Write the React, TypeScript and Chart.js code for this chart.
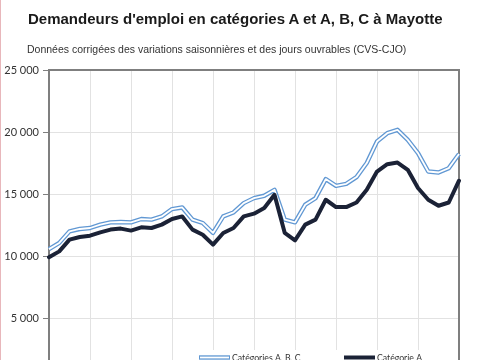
import React, { useEffect, useRef } from "react";
import { Chart, registerables } from "chart.js";

Chart.register(...registerables);

const quarters = [
  "T1 2010", "T2 2010", "T3 2010", "T4 2010",
  "T1 2011", "T2 2011", "T3 2011", "T4 2011",
  "T1 2012", "T2 2012", "T3 2012", "T4 2012",
  "T1 2013", "T2 2013", "T3 2013", "T4 2013",
  "T1 2014", "T2 2014", "T3 2014", "T4 2014",
  "T1 2015", "T2 2015", "T3 2015", "T4 2015",
  "T1 2016", "T2 2016", "T3 2016", "T4 2016",
  "T1 2017", "T2 2017", "T3 2017", "T4 2017",
  "T1 2018", "T2 2018", "T3 2018", "T4 2018",
  "T1 2019", "T2 2019", "T3 2019", "T4 2019",
  "T1 2020",
];

const categoriesABC = [
  10600, 11100, 12030, 12220, 12300, 12570, 12750, 12780, 12750, 13020,
  12970, 13230, 13820, 13950, 12970, 12700, 11900, 13230, 13550, 14300,
  14700, 14890, 15370, 12970, 12750, 14170, 14700, 16230, 15690, 15850,
  16390, 17520, 19250, 19920, 20190, 19380, 18320, 16840, 16760, 17110,
  18250,
];

const categorieA = [
  9950, 10420, 11360, 11580, 11680, 11950, 12170, 12250, 12090, 12350,
  12300, 12570, 13020, 13230, 12170, 11760, 10960, 11900, 12300, 13230,
  13450, 13900, 14970, 11900, 11310, 12570, 12970, 14570, 13980, 13980,
  14350, 15370, 16840, 17430, 17560, 16980, 15510, 14570, 14090, 14350,
  16100,
];

const yTicks = [0, 5000, 10000, 15000, 20000, 25000];
const legendLabels = ["Catégories A, B, C", "Catégorie A"];

const TITLE = "Demandeurs d'emploi en catégories A et A, B, C à Mayotte";
const SUBTITLE =
  "Données corrigées des variations saisonnières et des jours ouvrables (CVS-CJO)";

const BLUE = "#6198d3";
const DARK = "#1b2236";
const GRID = "#e2e2e2";
const AXIS = "#7f7f7f";

const fmt = (v: number) =>
  String(v).replace(/\B(?=(\d{3})+(?!\d))/g, " ");

const frameAndLegend = {
  id: "frameAndLegend",
  beforeDatasetsDraw(chart: any) {
    const { ctx, chartArea } = chart;
    ctx.save();
    ctx.strokeStyle = AXIS;
    ctx.lineWidth = 2;
    ctx.strokeRect(
      chartArea.left,
      chartArea.top,
      chartArea.right - chartArea.left,
      chartArea.bottom - chartArea.top
    );
    ctx.restore();
  },
  afterDraw(chart: any) {
    const { ctx, chartArea } = chart;
    const y = chartArea.bottom - 23.5;
    ctx.save();
    ctx.fillStyle = "#ffffff";
    ctx.fillRect(chartArea.left + 140, y - 7.5, 245, 30);
    ctx.font = "8.7px Lato";
    ctx.textBaseline = "middle";
    ctx.lineCap = "butt";
    // item 1 : double line
    const x1 = chartArea.left + 150;
    ctx.strokeStyle = BLUE;
    ctx.lineWidth = 4.4;
    ctx.beginPath();
    ctx.moveTo(x1, y);
    ctx.lineTo(x1 + 31, y);
    ctx.stroke();
    ctx.strokeStyle = "#ffffff";
    ctx.lineWidth = 1.8;
    ctx.beginPath();
    ctx.moveTo(x1 + 1, y);
    ctx.lineTo(x1 + 30, y);
    ctx.stroke();
    ctx.fillStyle = "#333333";
    ctx.fillText(legendLabels[0], x1 + 33, y + 1);
    // item 2
    const x2 = chartArea.left + 295;
    ctx.strokeStyle = DARK;
    ctx.lineWidth = 4;
    ctx.beginPath();
    ctx.moveTo(x2, y);
    ctx.lineTo(x2 + 31, y);
    ctx.stroke();
    ctx.fillText(legendLabels[1], x2 + 33, y + 1);
    ctx.restore();
  },
};

export default function App() {
  const ref = useRef<HTMLCanvasElement>(null);

  useEffect(() => {
    document.body.style.margin = "0";
    if (!ref.current) return;
    const chart = new Chart(ref.current, {
      type: "line",
      data: {
        labels: quarters,
        datasets: [
          {
            label: legendLabels[1],
            data: categorieA,
            borderColor: DARK,
            borderWidth: 4,
            pointRadius: 0,
            tension: 0,
            borderJoinStyle: "round",
            borderCapStyle: "round",
          },
          {
            label: legendLabels[0] + " (inner)",
            data: categoriesABC,
            borderColor: "#ffffff",
            borderWidth: 1.8,
            pointRadius: 0,
            tension: 0,
            borderJoinStyle: "round",
          },
          {
            label: legendLabels[0],
            data: categoriesABC,
            borderColor: BLUE,
            borderWidth: 4.4,
            pointRadius: 0,
            tension: 0,
            borderJoinStyle: "round",
          },
        ],
      },
      options: {
        animation: false,
        responsive: false,
        events: [],
        layout: { padding: { top: 70, right: 26, left: 0, bottom: 0 } },
        plugins: {
          legend: { display: false },
          tooltip: { enabled: false },
          title: { display: false },
        },
        scales: {
          x: {
            grid: {
              color: (c: any) => (c.index % 4 === 0 ? GRID : "rgba(0,0,0,0)"),
              drawTicks: false,
            },
            border: { display: false },
            ticks: {
              autoSkip: false,
              maxRotation: 0,
              padding: 6,
              font: { family: "Lato", size: 11 },
              color: "#333333",
              callback: (_v: any, i: number) =>
                i % 4 === 0 ? quarters[i].slice(3) : "",
            },
            afterFit: (s: any) => {
              s.height = 39;
            },
          },
          y: {
            min: 0,
            max: 25000,
            afterBuildTicks: (s: any) => {
              s.ticks = yTicks.map((v) => ({ value: v }));
            },
            grid: {
              color: GRID,
              tickColor: AXIS,
              tickLength: 6,
            },
            border: { display: false },
            ticks: {
              padding: 4,
              font: { family: "Lato", size: 11 },
              color: "#333333",
              callback: (v: any) => fmt(Number(v)),
            },
            afterFit: (s: any) => {
              s.width = 49;
            },
          },
        },
      },
      plugins: [frameAndLegend],
    });
    return () => chart.destroy();
  }, []);

  return (
    <div
      style={{
        position: "relative",
        width: 485,
        height: 360,
        overflow: "hidden",
        background: "#ffffff",
      }}
    >
      <canvas
        ref={ref}
        width={485}
        height={420}
        style={{ position: "absolute", left: 0, top: 0, width: 485, height: 420 }}
      />
      <div
        style={{
          position: "absolute",
          left: 28,
          top: 11,
          font: "bold 15px 'Liberation Sans', Arial, sans-serif",
          lineHeight: "15px",
          color: "#1a1a1a",
          whiteSpace: "nowrap",
        }}
      >
        {TITLE}
      </div>
      <div
        style={{
          position: "absolute",
          left: 27,
          top: 44,
          font: "10.5px 'Liberation Sans', Arial, sans-serif",
          lineHeight: "11px",
          color: "#333333",
          whiteSpace: "nowrap",
        }}
      >
        {SUBTITLE}
      </div>
      <div
        style={{
          position: "absolute",
          left: 0,
          top: 0,
          width: 1,
          height: 360,
          background: "#e8b7bb",
        }}
      />
    </div>
  );
}
